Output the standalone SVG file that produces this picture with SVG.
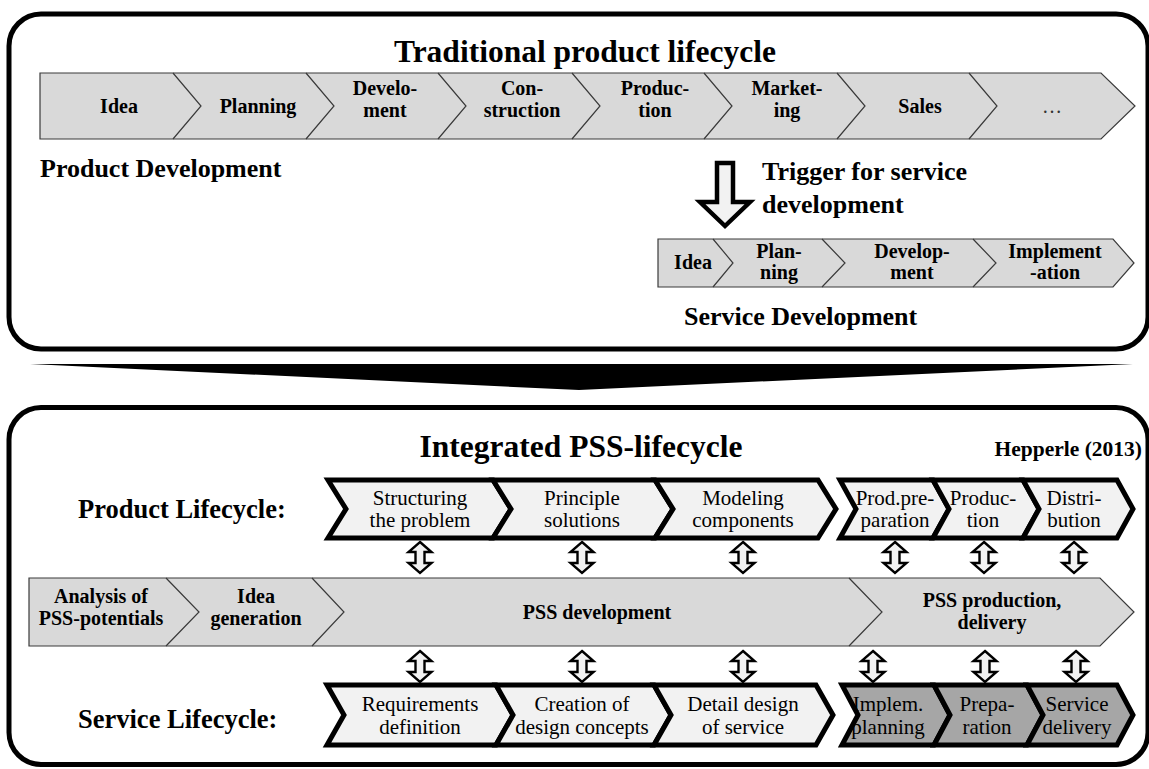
<svg xmlns="http://www.w3.org/2000/svg" width="1149" height="769" viewBox="0 0 1149 769">
  <defs>
    <style>
      .frame { fill: none; stroke: #000; stroke-width: 5; }
      .bar { fill: #d9d9d9; stroke: #3a3a3a; stroke-width: 1.2; }
      .div { fill: none; stroke: #3a3a3a; stroke-width: 1.2; }
      .chev { fill: #f2f2f2; stroke: #000; stroke-width: 5; stroke-linejoin: miter; }
      .chev-dark { fill: #a6a6a6; stroke: #000; stroke-width: 5; stroke-linejoin: miter; }
      .dbl { fill: #f2f2f2; stroke: #000; stroke-width: 2.4; stroke-linejoin: miter; }
      text { font-family: "Liberation Serif", "Times New Roman", serif; fill: #000; }
      .title { font-size: 31.5px; font-weight: bold; text-anchor: middle; }
      .head { font-size: 26px; font-weight: bold; }
      .lbl { font-size: 20px; font-weight: bold; text-anchor: middle; }
      .step { font-size: 21px; text-anchor: middle; }
    </style>
    <!-- hollow double-headed arrow, centred on x=0, spanning y 0..31 -->
    <path id="dblArrow" class="dbl" d="M0,0 L11.5,10 L4.5,10 L4.5,21 L11.5,21 L0,31 L-11.5,21 L-4.5,21 L-4.5,10 L-11.5,10 Z"/>
  </defs>

  <rect width="1149" height="769" fill="#fff"/>

  <!-- ===== Upper panel: traditional lifecycle ===== -->
  <g id="panel-traditional">
    <rect class="frame" x="9" y="14" width="1139" height="335" rx="32" ry="32"/>
    <text class="title" x="585" y="62">Traditional product lifecycle</text>
  </g>

  <g id="product-development-bar">
    <polygon class="bar" points="40,73 1101,73 1135,106 1101,139 40,139"/>
    <polyline class="div" points="173,73 201,106 173,139"/>
    <polyline class="div" points="306,73 334,106 306,139"/>
    <polyline class="div" points="438,73 466,106 438,139"/>
    <polyline class="div" points="572,73 600,106 572,139"/>
    <polyline class="div" points="704,73 732,106 704,139"/>
    <polyline class="div" points="837,73 865,106 837,139"/>
    <polyline class="div" points="969,73 997,106 969,139"/>
    <text class="lbl" x="119" y="113">Idea</text>
    <text class="lbl" x="258" y="113">Planning</text>
    <text class="lbl" x="385" y="95">Develo-</text>
    <text class="lbl" x="385" y="117">ment</text>
    <text class="lbl" x="522" y="95">Con-</text>
    <text class="lbl" x="522" y="117">struction</text>
    <text class="lbl" x="655" y="95">Produc-</text>
    <text class="lbl" x="655" y="117">tion</text>
    <text class="lbl" x="787" y="95">Market-</text>
    <text class="lbl" x="787" y="117">ing</text>
    <text class="lbl" x="920" y="113">Sales</text>
    <text class="lbl" x="1052" y="113" style="font-weight:normal;fill:#333">…</text>
  </g>
  <text id="label-product-development" class="head" x="40" y="177">Product Development</text>

  <g id="trigger">
    <path d="M717,163 L733,163 L733,202 L750,202 L725,226 L700,202 L717,202 Z" fill="#f2f2f2" stroke="#000" stroke-width="4.5" stroke-linejoin="miter"/>
    <text class="head" x="762" y="180">Trigger for service</text>
    <text class="head" x="762" y="213">development</text>
  </g>

  <g id="service-development-bar">
    <polygon class="bar" points="658,239 1113,239 1134,263 1113,287 658,287"/>
    <polyline class="div" points="713,239 733,263 713,287"/>
    <polyline class="div" points="822,239 845,263 822,287"/>
    <polyline class="div" points="973,239 996,263 973,287"/>
    <text class="lbl" x="693" y="269">Idea</text>
    <text class="lbl" x="779" y="258">Plan-</text>
    <text class="lbl" x="779" y="279">ning</text>
    <text class="lbl" x="912" y="258">Develop-</text>
    <text class="lbl" x="912" y="279">ment</text>
    <text class="lbl" x="1055" y="258">Implement</text>
    <text class="lbl" x="1055" y="279">-ation</text>
  </g>
  <text id="label-service-development" class="head" x="684" y="325">Service Development</text>

  <!-- ===== Transition wedge ===== -->
  <g id="transition">
    <polygon points="30,364 1133,364 579,390" fill="#000"/>
  </g>

  <!-- ===== Lower panel: integrated PSS lifecycle ===== -->
  <g id="panel-integrated">
    <rect class="frame" x="9" y="407.5" width="1139" height="357" rx="32" ry="32"/>
    <text class="title" x="581" y="457">Integrated PSS-lifecycle</text>
    <text x="1142" y="456" style="font-size:21.5px;font-weight:bold;text-anchor:end">Hepperle (2013)</text>
  </g>

  <text id="label-product-lifecycle" class="head" x="78" y="518" style="font-size:26.5px">Product Lifecycle:</text>
  <text id="label-service-lifecycle" class="head" x="78" y="728" style="font-size:26.5px">Service Lifecycle:</text>

  <g id="product-lifecycle">
    <polygon class="chev" points="328,480 493,480 511,509 493,538 328,538 346,509"/>
    <polygon class="chev" points="493,480 655,480 673,509 655,538 493,538 511,509"/>
    <polygon class="chev" points="655,480 818,480 836,509 818,538 655,538 673,509"/>
    <polygon class="chev" points="840,480 933,480 949,509 933,538 840,538 856,509"/>
    <polygon class="chev" points="933,480 1023,480 1039,509 1023,538 933,538 949,509"/>
    <polygon class="chev" points="1023,480 1117,480 1133,509 1117,538 1023,538 1039,509"/>
    <text class="step" x="420" y="505">Structuring</text>
    <text class="step" x="420" y="527">the problem</text>
    <text class="step" x="582" y="505">Principle</text>
    <text class="step" x="582" y="527">solutions</text>
    <text class="step" x="743" y="505">Modeling</text>
    <text class="step" x="743" y="527">components</text>
    <text class="step" x="895" y="505">Prod.pre-</text>
    <text class="step" x="895" y="527">paration</text>
    <text class="step" x="983" y="505">Produc-</text>
    <text class="step" x="983" y="527">tion</text>
    <text class="step" x="1074" y="505">Distri-</text>
    <text class="step" x="1074" y="527">bution</text>
  </g>

  <g id="pss-bar">
    <polygon class="bar" points="29,578 1100,578 1134,612 1100,646 29,646"/>
    <polyline class="div" points="166,578 199,612 166,646"/>
    <polyline class="div" points="312,578 344,612 312,646"/>
    <polyline class="div" points="849,578 882,612 849,646"/>
    <text class="lbl" x="101" y="603">Analysis of</text>
    <text class="lbl" x="101" y="625">PSS-potentials</text>
    <text class="lbl" x="256" y="603">Idea</text>
    <text class="lbl" x="256" y="625">generation</text>
    <text class="lbl" x="597" y="619">PSS development</text>
    <text class="lbl" x="992" y="607">PSS production,</text>
    <text class="lbl" x="992" y="629">delivery</text>
  </g>

  <g id="service-lifecycle">
    <polygon class="chev" points="327,685 496,685 513,715 496,745 327,745 344,715"/>
    <polygon class="chev" points="496,685 654,685 671,715 654,745 496,745 513,715"/>
    <polygon class="chev" points="654,685 816,685 833,715 816,745 654,745 671,715"/>
    <polygon class="chev-dark" points="842,685 934,685 950,715 934,745 842,745 858,715"/>
    <polygon class="chev-dark" points="934,685 1027,685 1043,715 1027,745 934,745 950,715"/>
    <polygon class="chev-dark" points="1027,685 1117,685 1133,715 1117,745 1027,745 1043,715"/>
    <text class="step" x="420" y="711">Requirements</text>
    <text class="step" x="420" y="734">definition</text>
    <text class="step" x="582" y="711">Creation of</text>
    <text class="step" x="582" y="734">design concepts</text>
    <text class="step" x="743" y="711">Detail design</text>
    <text class="step" x="743" y="734">of service</text>
    <text class="step" x="888" y="711">Implem.</text>
    <text class="step" x="888" y="734">planning</text>
    <text class="step" x="987" y="711">Prepa-</text>
    <text class="step" x="987" y="734">ration</text>
    <text class="step" x="1077" y="711">Service</text>
    <text class="step" x="1077" y="734">delivery</text>
  </g>

  <!-- two-way links between the lifecycles and the PSS bar -->
  <g id="connectors">
    <use href="#dblArrow" x="420" y="542"/>
    <use href="#dblArrow" x="582" y="542"/>
    <use href="#dblArrow" x="743" y="542"/>
    <use href="#dblArrow" x="895" y="542"/>
    <use href="#dblArrow" x="984" y="542"/>
    <use href="#dblArrow" x="1074" y="542"/>
    <use href="#dblArrow" x="420" y="651"/>
    <use href="#dblArrow" x="582" y="651"/>
    <use href="#dblArrow" x="743" y="651"/>
    <use href="#dblArrow" x="873" y="651"/>
    <use href="#dblArrow" x="985" y="651"/>
    <use href="#dblArrow" x="1076" y="651"/>
  </g>
</svg>
